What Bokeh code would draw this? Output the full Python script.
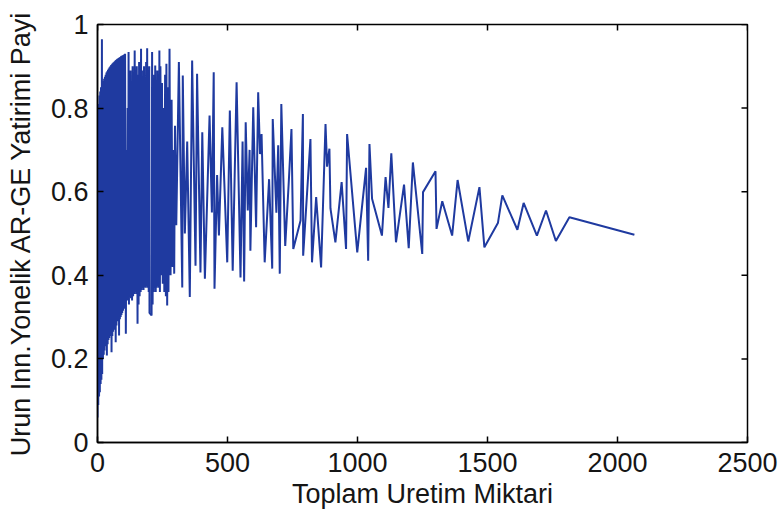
from bokeh.plotting import figure
from bokeh.models import Range1d, FixedTicker
from bokeh.embed import file_html
from bokeh.resources import INLINE

# ---- data ----
x_prod = [
    0, 1.5, 3, 4.5, 6, 7.5, 9, 10.5, 12, 13.5, 15, 17, 18, 19.5, 21, 22.5, 24, 25.5, 27, 28.5,
    30, 31.5, 33, 34.5, 36, 37.5, 39, 40.5, 42, 43.5, 45, 46.5, 48, 49.5, 51, 52.5, 54, 55.5,
    57, 58.5, 60, 61.5, 63, 64.5, 66, 68, 70, 71.5, 73, 74.5, 76, 77.5, 79, 81, 83, 84.5, 86,
    87.5, 89, 90.5, 92, 93.5, 95, 96.5, 98, 99.5, 101, 102.5, 104, 106, 109,
    112, 114, 116, 118, 119.5, 121, 123, 125, 127, 129, 131, 133, 135, 137, 139, 141, 143, 145,
    147, 149, 151, 154, 156, 158, 160, 162, 164, 166, 167.5, 169, 171, 173, 175, 177, 179, 181,
    183, 185, 187, 189, 191, 193, 195, 197, 199, 200, 208, 210, 212, 214, 216, 218, 220, 222,
    224, 226, 228, 230, 232, 234, 236, 238, 240, 242,
    245, 248, 251, 254, 257, 260, 263, 265, 268, 271, 273, 277, 281, 285, 289, 292, 295, 298,
    303, 313, 326, 328, 336, 345, 355, 364, 377, 383, 396, 403, 413, 431, 440, 447, 450, 460,
    467, 480, 499, 509, 520, 535, 550, 558, 564, 570, 578, 585, 588, 599, 610, 618, 625, 631,
    643, 660, 672, 674, 688, 695, 701, 707, 722, 736, 746, 753, 781, 790, 791, 819, 825, 841,
    860, 877, 883, 892, 896, 915, 939, 956, 960, 999, 1033, 1041, 1046, 1056, 1094, 1108, 1119,
    1130, 1148, 1179, 1197, 1213, 1249, 1252, 1300, 1304, 1326, 1364, 1385, 1426, 1469, 1488,
    1540, 1557, 1615, 1639, 1690, 1725, 1763, 1815, 2065,
]
y_share = [
    0.06, 0.78, 0.09, 0.81, 0.11, 0.83, 0.12, 0.84, 0.14, 0.85, 0.15, 0.965, 0.164, 0.86, 0.20,
    0.865, 0.21, 0.87, 0.22, 0.875, 0.23, 0.88, 0.235, 0.885, 0.208, 0.888, 0.235, 0.892, 0.245,
    0.895, 0.25, 0.898, 0.255, 0.90, 0.26, 0.903, 0.216, 0.905, 0.255, 0.907, 0.265, 0.909, 0.27,
    0.911, 0.275, 0.913, 0.24, 0.915, 0.28, 0.917, 0.29, 0.918, 0.295, 0.92, 0.256, 0.921, 0.295,
    0.922, 0.30, 0.924, 0.305, 0.925, 0.31, 0.926, 0.315, 0.927, 0.32, 0.928, 0.325, 0.93, 0.26,
    0.70, 0.34, 0.80, 0.345, 0.934, 0.33, 0.87, 0.35, 0.89, 0.345, 0.85, 0.34, 0.90, 0.35, 0.88,
    0.355, 0.938, 0.36, 0.86, 0.355, 0.90, 0.284, 0.88, 0.33, 0.91, 0.35, 0.87, 0.36, 0.942,
    0.365, 0.89, 0.37, 0.84, 0.365, 0.90, 0.372, 0.86, 0.37, 0.91, 0.375, 0.943, 0.37, 0.88,
    0.36, 0.90, 0.31, 0.304, 0.934, 0.33, 0.86, 0.36, 0.88, 0.37, 0.902, 0.36, 0.85, 0.37, 0.89,
    0.375, 0.86, 0.37, 0.938, 0.36, 0.90,
    0.40, 0.86, 0.38, 0.80, 0.36, 0.88, 0.35, 0.906, 0.328, 0.85, 0.36, 0.942, 0.40, 0.82, 0.42,
    0.70, 0.404, 0.758, 0.52, 0.910, 0.371, 0.878, 0.50, 0.72, 0.348, 0.914, 0.423, 0.882, 0.407,
    0.742, 0.392, 0.782, 0.55, 0.886, 0.368, 0.64, 0.495, 0.754, 0.431, 0.794, 0.411, 0.862,
    0.395, 0.72, 0.385, 0.766, 0.555, 0.70, 0.459, 0.802, 0.515, 0.838, 0.69, 0.738, 0.431,
    0.63, 0.416, 0.774, 0.55, 0.711, 0.404, 0.810, 0.47, 0.627, 0.750, 0.463, 0.531, 0.786,
    0.447, 0.726, 0.431, 0.587, 0.419, 0.762, 0.66, 0.703, 0.560, 0.479, 0.623, 0.463, 0.738,
    0.455, 0.657, 0.435, 0.714, 0.583, 0.495, 0.635, 0.561, 0.692, 0.479, 0.617, 0.465, 0.670,
    0.451, 0.599, 0.649, 0.511, 0.577, 0.495, 0.628, 0.481, 0.611, 0.467, 0.525, 0.591, 0.509,
    0.573, 0.495, 0.555, 0.482, 0.539, 0.497,
]
x_ticks = [0, 500, 1000, 1500, 2000, 2500]
y_ticks = [0, 0.2, 0.4, 0.6, 0.8, 1]
y_tick_labels = ["0", "0.2", "0.4", "0.6", "0.8", "1"]
x_label = "Toplam Uretim Miktari"
y_label = "Urun Inn.Yonelik AR-GE Yatirimi Payi"

FONT = "Liberation Sans"
TXT = "#151515"
W, H = 778, 524
BL, BR, BT, BB = 97, 31, 24, 82
TICK_PX = 6

p = figure(width=W, height=H, output_backend="svg", toolbar_location=None,
           x_range=Range1d(x_ticks[0], x_ticks[-1]), y_range=Range1d(y_ticks[0], y_ticks[-1]),
           min_border_left=BL, min_border_right=BR, min_border_top=BT, min_border_bottom=BB)
p.background_fill_color = "white"
p.border_fill_color = "white"
p.xgrid.visible = False
p.ygrid.visible = False
p.outline_line_color = "black"
p.outline_line_width = 1.5

p.line(x_prod, y_share, line_color="#1f3aa0", line_width=2)

# inward ticks on the top and right edges of the box (MATLAB "box on")
x0, x1 = x_ticks[0], x_ticks[-1]
y0, y1 = y_ticks[0], y_ticks[-1]
dx = (x1 - x0) / (W - BL - BR) * TICK_PX
dy = (y1 - y0) / (H - BT - BB) * TICK_PX
p.segment(x0=x_ticks, y0=[y1] * len(x_ticks), x1=x_ticks, y1=[y1 - dy] * len(x_ticks),
          line_color="black", line_width=1.5)
p.segment(x0=[x1] * len(y_ticks), y0=y_ticks, x1=[x1 - dx] * len(y_ticks), y1=y_ticks,
          line_color="black", line_width=1.5)

p.xaxis.ticker = FixedTicker(ticks=x_ticks)
p.yaxis.ticker = FixedTicker(ticks=y_ticks)
p.yaxis.major_label_overrides = {t: s for t, s in zip(y_ticks, y_tick_labels)}

for ax in p.xaxis + p.yaxis:
    ax.axis_line_color = "black"
    ax.axis_line_width = 1.5
    ax.major_tick_in = TICK_PX
    ax.major_tick_out = 0
    ax.major_tick_line_color = "black"
    ax.major_tick_line_width = 1.5
    ax.minor_tick_line_color = None
    ax.major_label_text_font = FONT
    ax.major_label_text_font_size = "27px"
    ax.major_label_text_color = TXT
    ax.axis_label_text_font = FONT
    ax.axis_label_text_font_size = "27px"
    ax.axis_label_text_font_style = "normal"
    ax.axis_label_text_color = TXT

p.xaxis.axis_label = x_label
p.xaxis.major_label_standoff = 10
p.xaxis.axis_label_standoff = 4
p.yaxis.axis_label = y_label
p.yaxis.major_label_standoff = 9
p.yaxis.axis_label_standoff = 12

open("out.html", "w").write(file_html(p, INLINE))
